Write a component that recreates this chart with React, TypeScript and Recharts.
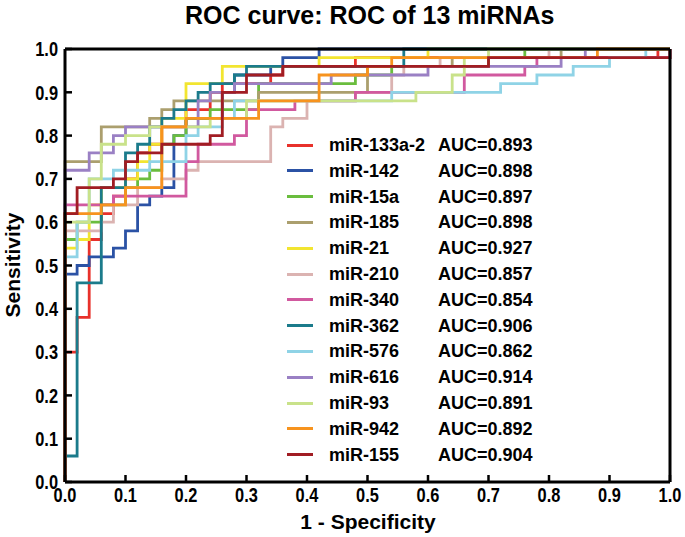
import { LineChart, Line, XAxis, YAxis } from 'recharts';

// ROC curves.
// Each pair is [1 - specificity, sensitivity] where the curve rises.
const miR133a2 = [[0, 0], [0, 0.30], [0.02, 0.38], [0.04, 0.56], [0.06, 0.62], [0.08, 0.66], [0.10, 0.70], [0.12, 0.76], [0.14, 0.78], [0.16, 0.82], [0.20, 0.86], [0.24, 0.90], [0.26, 0.92], [0.34, 0.94], [0.36, 0.96], [0.48, 0.98], [0.98, 1], [1, 1]];
const miR142 = [[0, 0], [0, 0.48], [0.02, 0.50], [0.04, 0.52], [0.08, 0.54], [0.10, 0.58], [0.12, 0.64], [0.14, 0.66], [0.16, 0.68], [0.18, 0.80], [0.20, 0.84], [0.26, 0.90], [0.28, 0.94], [0.34, 0.96], [0.36, 0.98], [0.42, 1], [1, 1]];
const miR15a = [[0, 0], [0, 0.56], [0.02, 0.60], [0.06, 0.64], [0.10, 0.68], [0.12, 0.70], [0.14, 0.72], [0.16, 0.78], [0.18, 0.80], [0.20, 0.84], [0.24, 0.86], [0.32, 0.92], [0.48, 0.94], [0.54, 0.96], [0.70, 0.98], [0.76, 1], [1, 1]];
const miR185 = [[0, 0], [0, 0.74], [0.06, 0.82], [0.14, 0.84], [0.16, 0.86], [0.18, 0.88], [0.32, 0.90], [0.50, 0.96], [0.64, 0.98], [0.82, 1], [1, 1]];
const miR21 = [[0, 0], [0, 0.54], [0.02, 0.56], [0.04, 0.64], [0.06, 0.68], [0.10, 0.70], [0.12, 0.74], [0.14, 0.78], [0.16, 0.84], [0.20, 0.92], [0.26, 0.96], [0.42, 0.98], [0.60, 1], [1, 1]];
const miR210 = [[0, 0], [0, 0.58], [0.06, 0.60], [0.08, 0.64], [0.12, 0.68], [0.16, 0.70], [0.20, 0.72], [0.22, 0.74], [0.34, 0.82], [0.36, 0.84], [0.40, 0.88], [0.48, 0.90], [0.54, 0.94], [0.56, 0.96], [0.62, 0.98], [0.80, 1], [1, 1]];
const miR340 = [[0, 0], [0, 0.64], [0.08, 0.66], [0.20, 0.74], [0.22, 0.78], [0.28, 0.80], [0.30, 0.86], [0.38, 0.88], [0.48, 0.90], [0.66, 0.94], [0.76, 0.96], [0.78, 0.98], [1, 1]];
const miR362 = [[0, 0], [0, 0.06], [0.02, 0.46], [0.06, 0.68], [0.10, 0.76], [0.12, 0.78], [0.14, 0.82], [0.16, 0.84], [0.18, 0.86], [0.20, 0.88], [0.22, 0.90], [0.24, 0.92], [0.28, 0.94], [0.30, 0.96], [0.56, 1], [1, 1]];
const miR576 = [[0, 0], [0, 0.52], [0.02, 0.60], [0.04, 0.70], [0.08, 0.72], [0.14, 0.74], [0.20, 0.80], [0.22, 0.82], [0.26, 0.84], [0.28, 0.88], [0.54, 0.90], [0.72, 0.92], [0.78, 0.94], [0.84, 0.96], [0.90, 0.98], [0.96, 1], [1, 1]];
const miR616 = [[0, 0], [0, 0.72], [0.04, 0.76], [0.08, 0.80], [0.10, 0.82], [0.22, 0.88], [0.24, 0.90], [0.28, 0.92], [0.44, 0.94], [0.60, 0.96], [0.82, 0.98], [0.86, 1], [1, 1]];
const miR93 = [[0, 0], [0, 0.60], [0.04, 0.70], [0.06, 0.78], [0.10, 0.80], [0.14, 0.82], [0.24, 0.84], [0.30, 0.88], [0.58, 0.90], [0.64, 0.94], [0.66, 0.98], [0.70, 1], [1, 1]];
const miR942 = [[0, 0], [0, 0.62], [0.06, 0.64], [0.10, 0.68], [0.16, 0.82], [0.20, 0.84], [0.32, 0.88], [0.42, 0.94], [0.50, 0.96], [0.54, 0.98], [0.88, 1], [1, 1]];
const miR155 = [[0, 0], [0, 0.62], [0.02, 0.68], [0.08, 0.70], [0.10, 0.74], [0.12, 0.76], [0.16, 0.78], [0.24, 0.80], [0.26, 0.90], [0.30, 0.94], [0.36, 0.96], [0.70, 0.98], [1, 1]];

const seriesNames = ['miR-133a-2', 'miR-142', 'miR-15a', 'miR-185', 'miR-21', 'miR-210', 'miR-340', 'miR-362', 'miR-576', 'miR-616', 'miR-93', 'miR-942', 'miR-155'];
const aucValues = ['0.893', '0.898', '0.897', '0.898', '0.927', '0.857', '0.854', '0.906', '0.862', '0.914', '0.891', '0.892', '0.904'];
const seriesPoints = [miR133a2, miR142, miR15a, miR185, miR21, miR210, miR340, miR362, miR576, miR616, miR93, miR942, miR155];
const axisTicks = [0, 0.1, 0.2, 0.3, 0.4, 0.5, 0.6, 0.7, 0.8, 0.9, 1.0];

const colors = ['#e8312b', '#2b52a5', '#6abd3e', '#ab9f6e', '#f2e530', '#dbb3b1', '#d1599f', '#1b7b8b', '#8fd3e6', '#9a80c4', '#c9e28a', '#f7931e', '#a11d23'];

const FONT = '"Liberation Sans", Arial, sans-serif';

const series = seriesNames.map((name, i) => ({
  name,
  auc: aucValues[i],
  color: colors[i],
  data: seriesPoints[i].map(([x, y]) => ({ x, y })),
}));

const axisLineStyle = { stroke: '#000', strokeWidth: 3 };
const tickLineStyle = { stroke: '#000', strokeWidth: 2.5 };

// tick labels in the figure are a condensed bold face, so squeeze them a bit
const XTick = ({ x, y, payload }: any) => (
  <text transform={`translate(${x},${y}) scale(0.82,1)`} textAnchor="middle" dy="0.72em"
    fontSize={20} fontWeight="bold" fontFamily={FONT} fill="#000">
    {Number(payload.value).toFixed(1)}
  </text>
);

const YTick = ({ x, y, payload }: any) => (
  <text transform={`translate(${x},${y}) scale(0.82,1)`} textAnchor="end" dy="0.36em"
    fontSize={20} fontWeight="bold" fontFamily={FONT} fill="#000">
    {Number(payload.value).toFixed(1)}
  </text>
);

const RocLegend = () => (
  <div style={{ position: 'absolute', left: 0, top: 0 }}>
    {series.map((s, i) => {
      const cy = 145 + i * 25.8;
      return (
        <div key={s.name}>
          <div style={{ position: 'absolute', left: 287, top: cy - 1.5, width: 26, height: 3, background: s.color }} />
          <div style={{ position: 'absolute', left: 329, top: cy - 11, lineHeight: '22px', fontSize: 18, fontWeight: 'bold', whiteSpace: 'nowrap' }}>{s.name}</div>
          <div style={{ position: 'absolute', left: 438, top: cy - 11, lineHeight: '22px', fontSize: 18, fontWeight: 'bold', whiteSpace: 'nowrap' }}>AUC={s.auc}</div>
        </div>
      );
    })}
  </div>
);

export default function App() {
  return (
    <div style={{ position: 'absolute', left: 0, top: 0, width: 685, height: 537, background: '#fff', fontFamily: FONT, color: '#000' }}>
      <div style={{ position: 'absolute', left: 185, top: 2, width: 364, textAlign: 'center', fontSize: 25, lineHeight: '26px', fontWeight: 'bold', whiteSpace: 'nowrap' }}>
        ROC curve: ROC of 13 miRNAs
      </div>

      <LineChart width={685} height={537} margin={{ top: 48, right: 14, bottom: 25, left: 25 }}>
        <XAxis dataKey="x" type="number" domain={[0, 1]} ticks={axisTicks} height={30}
          tick={<XTick />} axisLine={axisLineStyle} tickLine={tickLineStyle}
          tickSize={-7} tickMargin={13} interval={0} />
        <XAxis xAxisId="top" orientation="top" dataKey="x" type="number" domain={[0, 1]} ticks={axisTicks} height={1}
          tick={false} axisLine={axisLineStyle} tickLine={tickLineStyle} tickSize={-7} interval={0} />
        <YAxis dataKey="y" type="number" domain={[0, 1]} ticks={axisTicks} width={40}
          tick={<YTick />} axisLine={axisLineStyle} tickLine={tickLineStyle}
          tickSize={-7} tickMargin={14} interval={0} />
        <YAxis yAxisId="right" orientation="right" type="number" domain={[0, 1]} ticks={axisTicks} width={1}
          tick={false} axisLine={axisLineStyle} tickLine={tickLineStyle} tickSize={-7} interval={0} />
        {series.map((s) => (
          <Line key={s.name} data={s.data} dataKey="y" name={s.name} type="stepAfter"
            stroke={s.color} strokeWidth={2.8} dot={false} activeDot={false} isAnimationActive={false} />
        ))}
      </LineChart>

      <RocLegend />

      <div style={{ position: 'absolute', left: 268, top: 511, width: 200, textAlign: 'center', fontSize: 21, lineHeight: '21px', fontWeight: 'bold', whiteSpace: 'nowrap' }}>
        1 - Specificity
      </div>
      <div style={{ position: 'absolute', left: 13 - 100, top: 265 - 12, width: 200, height: 24, lineHeight: '24px', textAlign: 'center', transform: 'rotate(-90deg)', fontSize: 21, fontWeight: 'bold' }}>
        Sensitivity
      </div>
    </div>
  );
}
